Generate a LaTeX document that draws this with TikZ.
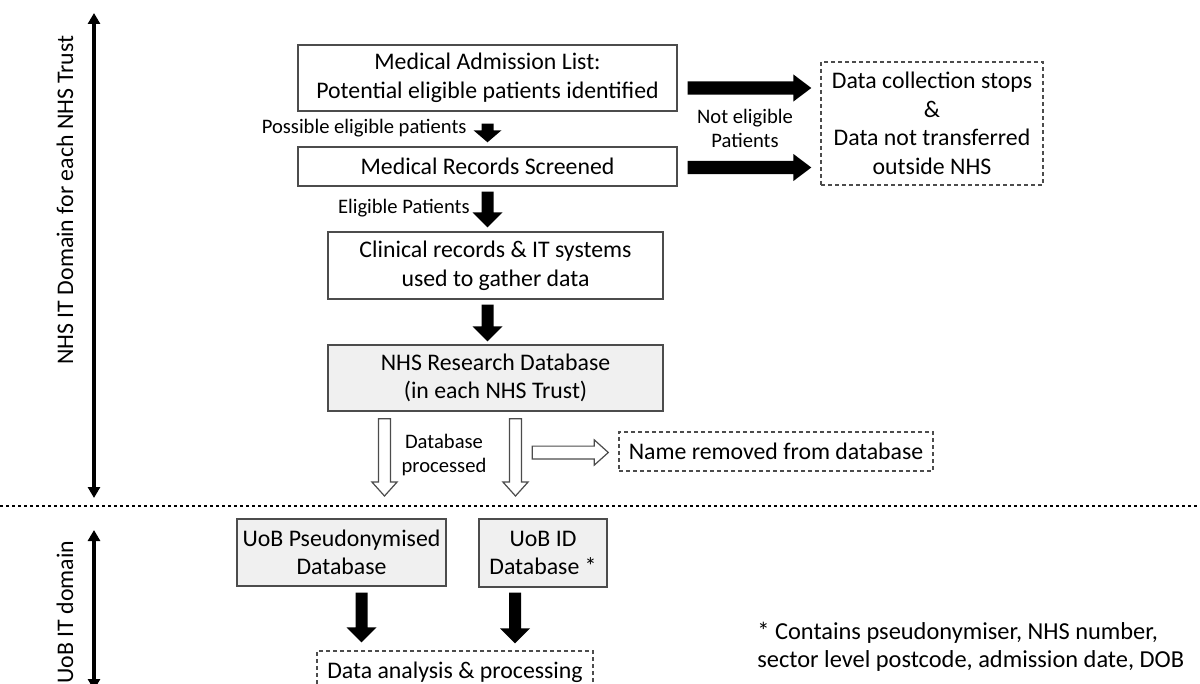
\documentclass[tikz,border=0pt]{standalone}
\usepackage{fontspec}
\setmainfont{Carlito}
\usetikzlibrary{calc,arrows.meta}
\begin{document}
\begin{tikzpicture}[x=0.5pt,y=-0.5pt,
  txt/.style={font=\fontsize{11.9}{14.3}\selectfont, align=center, inner sep=0pt},
  lbl/.style={font=\fontsize{10.3}{12}\selectfont, align=center, inner sep=0pt},
  box/.style={txt, draw=black!70, line width=0.7pt},
  gbox/.style={box, fill=black!6},
  dbox/.style={txt, draw=black!70, line width=0.7pt, dash pattern=on 2pt off 1.5pt},
  blk/.style={fill=black, draw=none},
  hol/.style={fill=white, draw=black!70, line width=0.6pt},
  downarr/.style={to path={let \p1=(\tikztostart),\p2=(\tikztotarget) in
     (\x1-3pt,\y1) -- (\x1-3pt,\y2+7.5pt) -- (\x1-7.5pt,\y2+7.5pt) -- (\x1,\y2)
     -- (\x1+7.5pt,\y2+7.5pt) -- (\x1+3pt,\y2+7.5pt) -- (\x1+3pt,\y1) -- cycle}},
  smalldown/.style={to path={let \p1=(\tikztostart),\p2=(\tikztotarget) in
     (\x1-3pt,\y1) -- (\x1-3pt,\y2+6pt) -- (\x1-7pt,\y2+6pt) -- (\x1,\y2)
     -- (\x1+7pt,\y2+6pt) -- (\x1+3pt,\y2+6pt) -- (\x1+3pt,\y1) -- cycle}},
  rightarr/.style={to path={let \p1=(\tikztostart),\p2=(\tikztotarget) in
     (\x1,\y1-3.3pt) -- (\x2-9pt,\y1-3.3pt) -- (\x2-9pt,\y1-6.8pt) -- (\x2,\y1)
     -- (\x2-9pt,\y1+6.8pt) -- (\x2-9pt,\y1+3.3pt) -- (\x1,\y1+3.3pt) -- cycle}},
  holdown/.style={to path={let \p1=(\tikztostart),\p2=(\tikztotarget) in
     (\x1-3pt,\y1) -- (\x1-3pt,\y2+7pt) -- (\x1-6.3pt,\y2+7pt) -- (\x1,\y2)
     -- (\x1+6.3pt,\y2+7pt) -- (\x1+3pt,\y2+7pt) -- (\x1+3pt,\y1) -- cycle}},
  holright/.style={to path={let \p1=(\tikztostart),\p2=(\tikztotarget) in
     (\x1,\y1-3.2pt) -- (\x2-7pt,\y1-3.2pt) -- (\x2-7pt,\y1-6.3pt) -- (\x2,\y1)
     -- (\x2-7pt,\y1+6.3pt) -- (\x2-7pt,\y1+3.2pt) -- (\x1,\y1+3.2pt) -- cycle}},
  side/.style={line width=1.6pt, {Triangle[width=6pt,length=5.5pt]}-{Triangle[width=6pt,length=5.5pt]}},
]
\useasboundingbox (0,0) rectangle (1200,684);
\clip (0,0) rectangle (1200,684);

% boxes
\node[box, minimum width=189.5pt, minimum height=33pt] (adm) at (487.5,78) {Medical Admission List:\\Potential eligible patients identified};
\node[box, minimum width=189.5pt, minimum height=19.5pt] (scr) at (487.5,166.5) {Medical Records Screened};
\node[dbox, minimum width=111pt, minimum height=61.5pt] (stop) at (932,123.5) {Data collection stops\\\&\\Data not transferred\\outside NHS};
\node[box, minimum width=167.5pt, minimum height=33.5pt] (clin) at (495.5,265.5) {Clinical records \& IT systems\\used to gather data};
\node[gbox, minimum width=167.5pt, minimum height=33pt] (nrd) at (495.5,378) {NHS Research Database\\(in each NHS Trust)};
\node[dbox, minimum width=157pt, minimum height=19.5pt] (name) at (776,451.5) {Name removed from database};
\node[gbox, minimum width=104.5pt, minimum height=33.5pt] (pse) at (341.5,552.5) {UoB Pseudonymised\\Database};
\node[gbox, minimum width=64pt, minimum height=34pt] (idb) at (543,553) {UoB ID\\Database *};
\node[dbox, minimum width=138pt, minimum height=21pt] (ana) at (455,672) {Data analysis \& processing};

% labels
\node[lbl, anchor=east] (pel) at (467,128) {Possible eligible patients};
\node[lbl] (nel) at (745,128) {Not eligible\\Patients};
\node[lbl, anchor=east] (elp) at (470,208) {Eligible Patients};
\node[lbl] (dbp) at (444,455) {Database\\processed};
\node[txt, anchor=west, align=left, font=\fontsize{12.2}{14.3}\selectfont] (fn) at (757,647) {* Contains pseudonymiser, NHS number,\\sector level postcode, admission date, DOB};

% side domains
\node[txt, rotate=90] (nhsd) at (65,200) {NHS IT Domain for each NHS Trust};
\node[txt, rotate=90] (uobd) at (65,612) {UoB IT domain};
\coordinate (t1) at (94,13);
\coordinate (b1) at (94,498);
\coordinate (t2) at (94,530);
\coordinate (b2) at (94,690);
\draw[side] (t1) -- (b1);
\draw[side] (t2) -- (b2);
\coordinate (dl) at (0,506);
\coordinate (dr) at (1200,506);
\draw[line width=1.3pt, dash pattern=on 1.3pt off 1.7pt] (dl) -- (dr);

% black arrows
\path[blk] ($(adm.south)+(0,12)$) to[smalldown] ($(scr.north)+(0,-4)$);
\path[blk] ($(scr.south)+(0,5)$) to[downarr] ($(scr.south |- clin.north)+(0,-4)$);
\path[blk] ($(scr.south |- clin.south)+(0,5)$) to[downarr] ($(scr.south |- nrd.north)+(0,-3)$);
\coordinate (r1) at ($(adm.east)+(10,10)$);
\coordinate (r2) at ($(scr.east)+(10,1)$);
\path[blk] (r1) to[rightarr] ($(r1 -| stop.west)+(-9,0)$);
\path[blk] (r2) to[rightarr] ($(r2 -| stop.west)+(-9,0)$);
\coordinate (l1) at ($(pse.south)+(20,6)$);
\coordinate (l2) at ($(idb.south)+(-28,5)$);
\path[blk] (l1) to[downarr] ($(l1 |- ana.north)+(0,-8)$);
\path[blk] (l2) to[downarr] ($(l2 |- ana.north)+(0,-7)$);

% hollow arrows
\coordinate (h1) at ($(nrd.south)+(-111,7)$);
\coordinate (h2) at ($(nrd.south)+(20,7)$);
\path[hol] (h1) to[holdown] ($(h1 |- dl)+(0,-10)$);
\path[hol] (h2) to[holdown] ($(h2 |- dl)+(0,-10)$);
\coordinate (h3) at ($(name.west)+(-86,1)$);
\path[hol] (h3) to[holright] ($(h3 -| name.west)+(-10,0)$);
\end{tikzpicture}
\end{document}
